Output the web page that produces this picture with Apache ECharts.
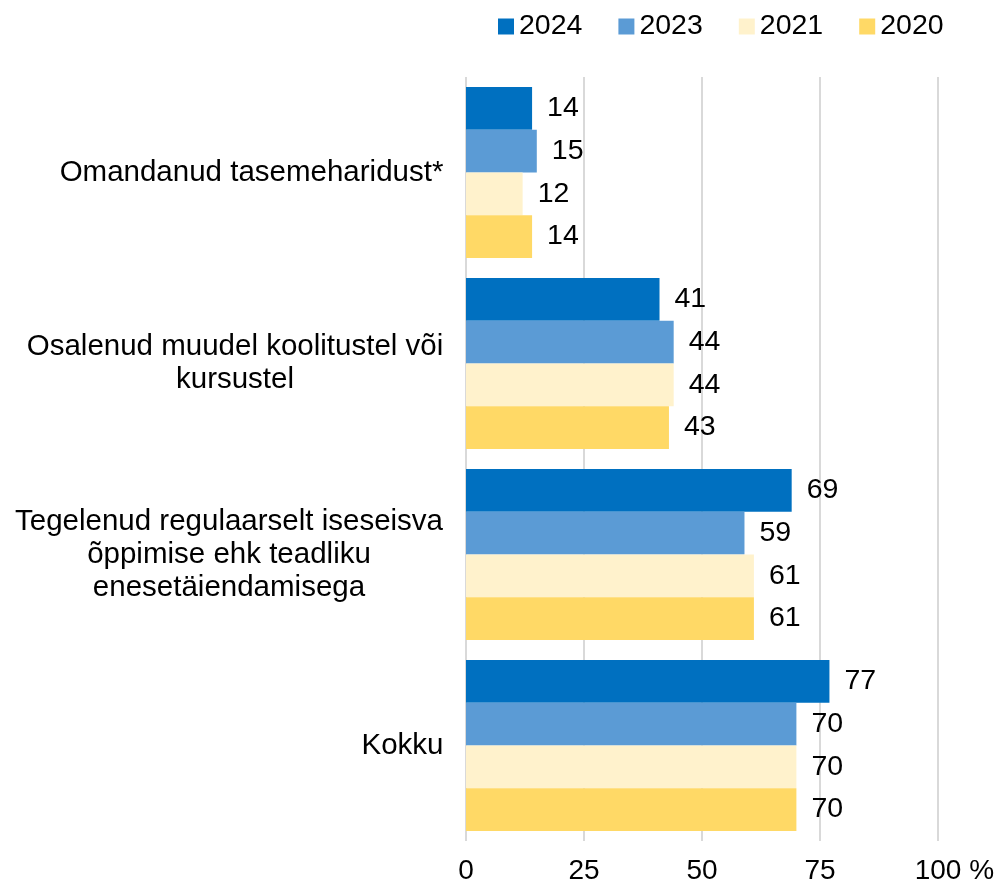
<!DOCTYPE html>
<html>
<head>
<meta charset="utf-8">
<script src="https://cdn.jsdelivr.net/npm/echarts@6/dist/echarts.min.js"></script>
<style>
  html, body { margin: 0; padding: 0; background: #fff; }
  #chart { width: 998px; height: 888px; }
</style>
</head>
<body>
<div id="chart"></div>
<script>
// andmed
const categories = [
    'Omandanud tasemeharidust*',
    'Osalenud muudel koolitustel või\nkursustel',
    'Tegelenud regulaarselt iseseisva\nõppimise ehk teadliku\nenesetäiendamisega',
    'Kokku'
];
const seriesNames = ['2024', '2023', '2021', '2020'];
const values2024 = [14, 41, 69, 77];
const values2023 = [15, 44, 59, 70];
const values2021 = [12, 44, 61, 70];
const values2020 = [14, 43, 61, 70];
const xTicks = [0, 25, 50, 75, 100];
const colors = ['#0070C0', '#5B9BD5', '#FFF2CC', '#FFD966'];

const FONT = 'Arial, "Liberation Sans", sans-serif';

// mõõdame teksti laiust, et mitmerealised sildid oleks keskel
const ctx = document.createElement('canvas').getContext('2d');
function textWidth(str, size) {
    ctx.font = size + 'px ' + FONT;
    return ctx.measureText(str).width;
}

const catRich = {};
categories.forEach((c, i) => {
    const w = Math.max(...c.split('\n').map(l => textWidth(l, 29.5)));
    catRich['c' + i] = {
        width: Math.ceil(w) + 1,
        align: 'center',
        fontSize: 29.5,
        lineHeight: 33,
        color: '#000',
        fontFamily: FONT
    };
});

const pctPad = textWidth(' %', 28);

const chart = echarts.init(document.getElementById('chart'));
const allValues = [values2024, values2023, values2021, values2020];

const option = {
    animation: false,
    textStyle: { fontFamily: FONT },
    legend: {
        data: seriesNames,
        left: 493,
        top: 7,
        icon: 'rect',
        itemWidth: 16,
        itemHeight: 16,
        itemGap: 36,
        textStyle: { fontSize: 28.5, color: '#000', fontFamily: FONT }
    },
    grid: { left: 466, right: 60, top: 77, bottom: 47 },
    xAxis: {
        type: 'value',
        min: 0,
        max: 100,
        interval: 25,
        axisLine: { show: false },
        axisTick: { show: false },
        splitLine: { lineStyle: { color: '#d9d9d9', width: 2 } },
        axisLabel: {
            margin: 16,
            fontSize: 28,
            color: '#000',
            fontFamily: FONT,
            formatter: v => v === 100 ? '{pad|}{t|100 %}' : String(v),
            rich: {
                pad: { width: pctPad },
                t: { fontSize: 28, color: '#000', fontFamily: FONT }
            }
        }
    },
    yAxis: {
        type: 'category',
        data: categories,
        inverse: true,
        axisLine: { show: false },
        axisTick: { show: false },
        axisLabel: {
            margin: 22,
            formatter: (val, idx) => val.split('\n').map(l => '{c' + idx + '|' + l + '}').join('\n'),
            rich: catRich
        }
    },
    series: seriesNames.map((name, i) => ({
        name: name,
        type: 'bar',
        data: allValues[i],
        barGap: '0%',
        barCategoryGap: '10.5%',
        itemStyle: { color: colors[i] },
        label: {
            show: true,
            position: 'right',
            distance: 15,
            fontSize: 28.5,
            color: '#000',
            fontFamily: FONT
        }
    }))
};

chart.setOption(option);
</script>
</body>
</html>
